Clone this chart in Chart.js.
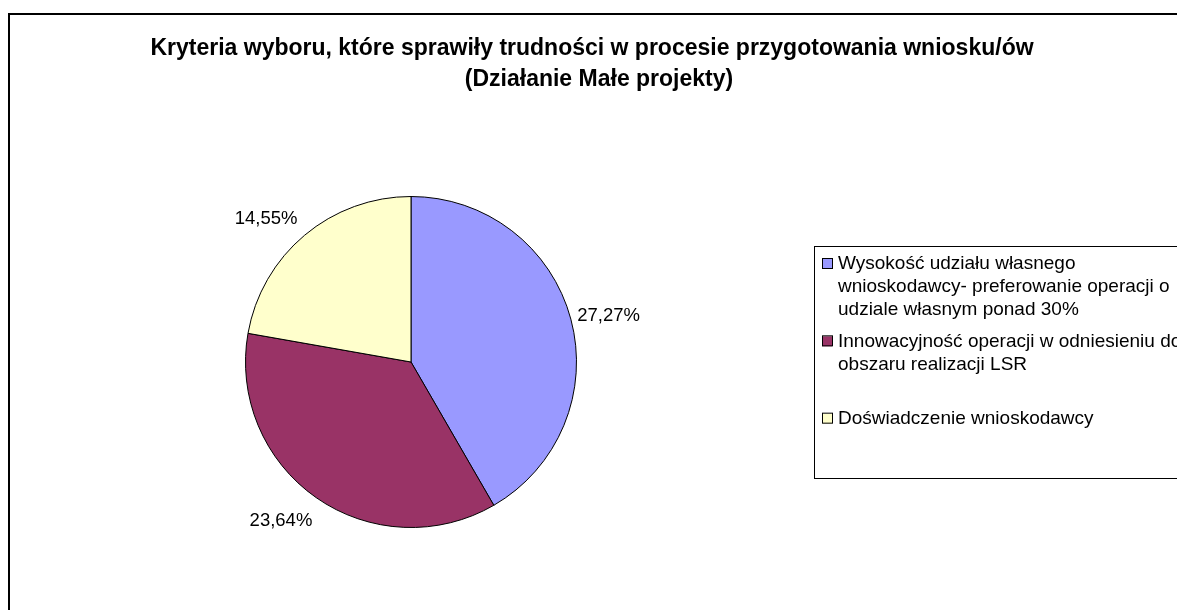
<!DOCTYPE html>
<html>
<head>
<meta charset="utf-8">
<script src="https://cdn.jsdelivr.net/npm/chart.js@4"></script>
<style>
  html, body { margin: 0; padding: 0; background: #fff; }
  canvas { display: block; }
</style>
</head>
<body>
<canvas id="pie" width="1177" height="610"></canvas>
<script>
// chart data
const titleLines = [
    'Kryteria wyboru, które sprawiły trudności w procesie przygotowania wniosku/ów',
    '(Działanie Małe projekty)'
];
const categories = [
    ['Wysokość udziału własnego', 'wnioskodawcy- preferowanie operacji o', 'udziale własnym ponad 30%'],
    ['Innowacyjność operacji w odniesieniu do', 'obszaru realizacji LSR'],
    ['Doświadczenie wnioskodawcy']
];
const values = [27.27, 23.64, 14.55];
const colors = ['#9999FF', '#993366', '#FFFFCC'];

const FONT = 'Arial, "Liberation Sans", sans-serif';

function fmt(v) {
    return v.toFixed(2).replace('.', ',') + '%';
}

// outer frame + title
const framePlugin = {
    id: 'frame',
    beforeDraw(chart) {
        const ctx = chart.ctx;
        ctx.save();
        ctx.fillStyle = '#fff';
        ctx.fillRect(0, 0, chart.width, chart.height);
        ctx.strokeStyle = '#000';
        ctx.lineWidth = 2;
        ctx.strokeRect(9, 14, chart.width + 50, chart.height + 50);
        ctx.fillStyle = '#000';
        ctx.font = 'bold 23px ' + FONT;
        ctx.textAlign = 'center';
        ctx.textBaseline = 'alphabetic';
        const xs = [592, 599];
        titleLines.forEach((t, i) => ctx.fillText(t, xs[i], 55 + i * 31));
        ctx.restore();
    }
};

// percentage labels just outside each slice
const labelPlugin = {
    id: 'sliceLabels',
    afterDatasetsDraw(chart) {
        const ctx = chart.ctx;
        const meta = chart.getDatasetMeta(0);
        ctx.save();
        ctx.font = '18.5px ' + FONT;
        ctx.fillStyle = '#000';
        ctx.textAlign = 'center';
        ctx.textBaseline = 'middle';
        meta.data.forEach((arc, i) => {
            const p = arc.getProps(['x', 'y', 'startAngle', 'endAngle', 'outerRadius'], true);
            const mid = (p.startAngle + p.endAngle) / 2;
            const txt = fmt(values[i]);
            const w = ctx.measureText(txt).width, h = 18;
            const r = p.outerRadius + 16;
            const cx = p.x + Math.cos(mid) * (r + w / 2) - 8;
            const cy = p.y + Math.sin(mid) * (r + h / 2) + 3;
            ctx.fillText(txt, cx, cy);
        });
        ctx.restore();
    }
};

// boxed legend on the right (runs off the edge like the original)
const legendPlugin = {
    id: 'boxLegend',
    afterDraw(chart) {
        const ctx = chart.ctx;
        const left = 814, top = 246, h = 232;
        const slot = h / categories.length;
        ctx.save();
        ctx.strokeStyle = '#000';
        ctx.lineWidth = 1;
        ctx.strokeRect(left + 0.5, top + 0.5, chart.width, h);
        ctx.font = '19px ' + FONT;
        ctx.textBaseline = 'middle';
        ctx.textAlign = 'left';
        categories.forEach((lines, i) => {
            const y0 = top + i * slot + 18;
            ctx.fillStyle = colors[i];
            ctx.fillRect(822, y0 - 5, 10, 10);
            ctx.strokeStyle = '#000';
            ctx.strokeRect(822.5, y0 - 5.5, 10, 10);
            ctx.fillStyle = '#000';
            lines.forEach((l, j) => ctx.fillText(l, 838, y0 + j * 23));
        });
        ctx.restore();
    }
};

new Chart(document.getElementById('pie'), {
    type: 'pie',
    data: {
        labels: categories,
        datasets: [{
            data: values,
            backgroundColor: colors,
            borderColor: '#000',
            borderWidth: 1
        }]
    },
    options: {
        responsive: false,
        animation: false,
        layout: { padding: { left: 245, right: 600, top: 196, bottom: 82 } },
        plugins: {
            legend: { display: false },
            title: { display: false },
            tooltip: { enabled: false }
        }
    },
    plugins: [framePlugin, labelPlugin, legendPlugin]
});
</script>
</body>
</html>
